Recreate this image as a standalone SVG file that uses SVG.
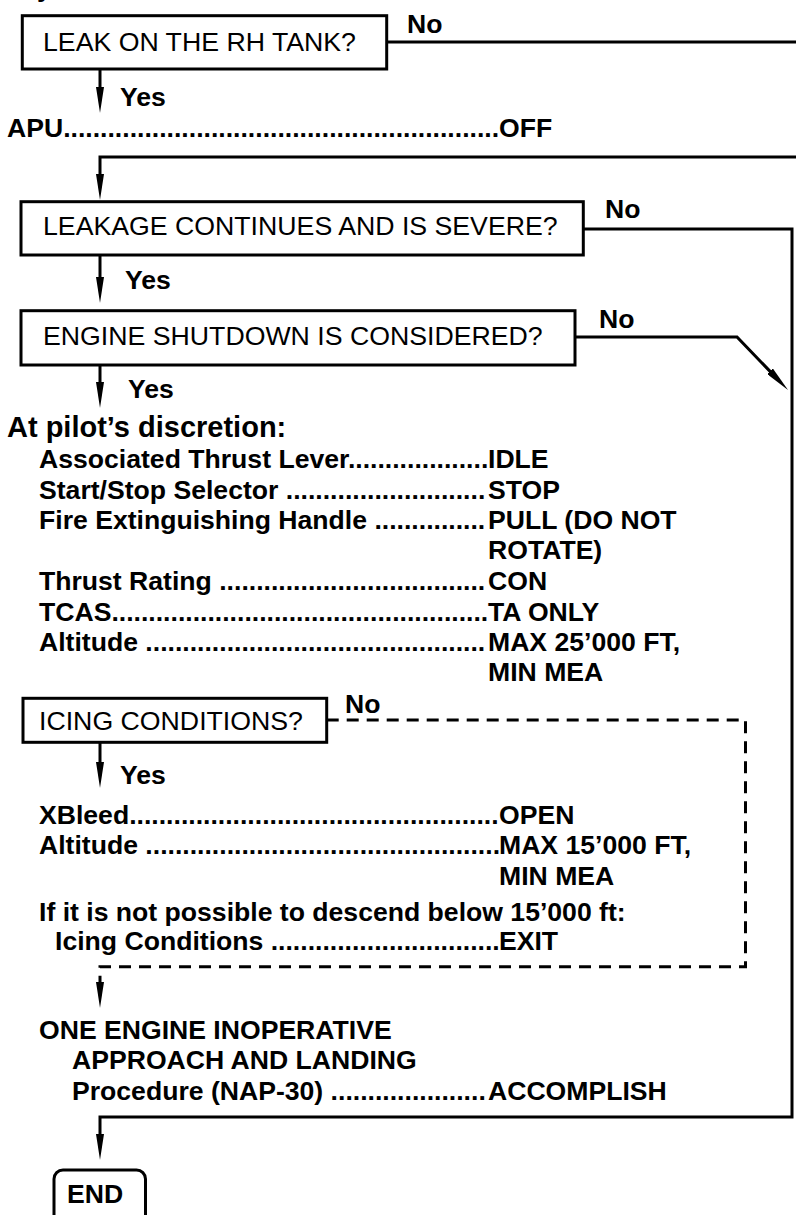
<svg xmlns="http://www.w3.org/2000/svg" width="796" height="1215" viewBox="0 0 796 1215">
<style>
  .box { fill: #fff; stroke: #000; stroke-width: 3; }
  .q { font-family: "Liberation Sans", Arial, sans-serif; font-size: 26.7px; fill: #000; }
  .b { font-family: "Liberation Sans", Arial, sans-serif; font-size: 26.6px; font-weight: bold; fill: #000; }
  .h { font-size: 29px; }
  .ln { fill: none; stroke: #000; stroke-width: 3; }
  .dash { fill: none; stroke: #000; stroke-width: 3; stroke-dasharray: 12 8; }
</style>
<defs>
  <marker id="ah" viewBox="0 0 26 8" refX="12" refY="4" markerWidth="26" markerHeight="8" markerUnits="userSpaceOnUse" orient="auto">
    <path d="M0,0 L26,4 L0,8 z" fill="#000"/>
  </marker>
</defs>

<text class="b" x="37" y="-3">y</text>

<g id="connectors">
  <path class="ln" d="M386.7,42 H796"/>
  <path class="ln" d="M100,69 V99" marker-end="url(#ah)"/>
  <path class="ln" d="M796,157 H100 V186" marker-end="url(#ah)"/>
  <path class="ln" d="M100,255 V289" marker-end="url(#ah)"/>
  <path class="ln" d="M100,365 V394" marker-end="url(#ah)"/>
  <path class="ln" d="M583,229 H792 V1117 H100 V1146" marker-end="url(#ah)"/>
  <path class="ln" d="M575,337 H737 L778.3,379.9" marker-end="url(#ah)"/>
  <path class="ln" d="M100,742 V774" marker-end="url(#ah)"/>
  <path class="dash" d="M326.7,720 H745.5 V966.7 H100 V994" marker-end="url(#ah)"/>
  <text class="b" x="407" y="33">No</text>
  <text class="b" x="120" y="106">Yes</text>
  <text class="b" x="605" y="218">No</text>
  <text class="b" x="125" y="289">Yes</text>
  <text class="b" x="599" y="328">No</text>
  <text class="b" x="128" y="398">Yes</text>
  <text class="b" x="345" y="713">No</text>
  <text class="b" x="120" y="784">Yes</text>
</g>

<g id="n1">
  <rect class="box" x="22.3" y="15.7" width="364.4" height="53.3"/>
  <text class="q" x="43" y="51">LEAK ON THE RH TANK?</text>
</g>

<g id="n-apu">
  <text class="b" x="7" y="137">APU...........................................................</text>
  <text class="b" x="499" y="137">OFF</text>
</g>

<g id="n2">
  <rect class="box" x="21" y="201.7" width="562.3" height="53.3"/>
  <text class="q" x="43" y="235">LEAKAGE CONTINUES AND IS SEVERE?</text>
</g>

<g id="n3">
  <rect class="box" x="21" y="310.7" width="554" height="54.3"/>
  <text class="q" x="43" y="345">ENGINE SHUTDOWN IS CONSIDERED?</text>
</g>

<g id="n-discretion">
  <text class="b h" x="7" y="437">At pilot’s discretion:</text>
  <text class="b" x="39" y="468">Associated Thrust Lever...................</text>
  <text class="b" x="488" y="468">IDLE</text>
  <text class="b" x="39" y="498.5">Start/Stop Selector ...........................</text>
  <text class="b" x="488" y="498.5">STOP</text>
  <text class="b" x="39" y="529">Fire Extinguishing Handle ...............</text>
  <text class="b" x="488" y="529">PULL (DO NOT</text>
  <text class="b" x="488" y="559">ROTATE)</text>
  <text class="b" x="39" y="590">Thrust Rating ....................................</text>
  <text class="b" x="488" y="590">CON</text>
  <text class="b" x="39" y="620.5">TCAS...................................................</text>
  <text class="b" x="488" y="620.5">TA ONLY</text>
  <text class="b" x="39" y="651">Altitude ..............................................</text>
  <text class="b" x="488" y="651">MAX 25’000 FT,</text>
  <text class="b" x="488" y="681">MIN MEA</text>
</g>

<g id="n4">
  <rect class="box" x="23" y="698.3" width="303.7" height="44"/>
  <text class="q" x="39" y="730">ICING CONDITIONS?</text>
</g>

<g id="n-icing">
  <text class="b" x="39" y="824">XBleed..................................................</text>
  <text class="b" x="499" y="824">OPEN</text>
  <text class="b" x="39" y="854">Altitude ................................................</text>
  <text class="b" x="499" y="854">MAX 15’000 FT,</text>
  <text class="b" x="499" y="885">MIN MEA</text>
  <text class="b" x="39" y="921">If it is not possible to descend below 15’000 ft:</text>
  <text class="b" x="55" y="950">Icing Conditions ...............................</text>
  <text class="b" x="499" y="950">EXIT</text>
</g>

<g id="n-oei">
  <text class="b" x="39" y="1039">ONE ENGINE INOPERATIVE</text>
  <text class="b" x="72" y="1069">APPROACH AND LANDING</text>
  <text class="b" x="72" y="1100">Procedure (NAP-30) .....................</text>
  <text class="b" x="488" y="1100">ACCOMPLISH</text>
</g>

<g id="n-end">
  <rect class="box" x="54" y="1170" width="91.5" height="60" rx="9" ry="9"/>
  <text class="b" x="67" y="1203">END</text>
</g>
</svg>
